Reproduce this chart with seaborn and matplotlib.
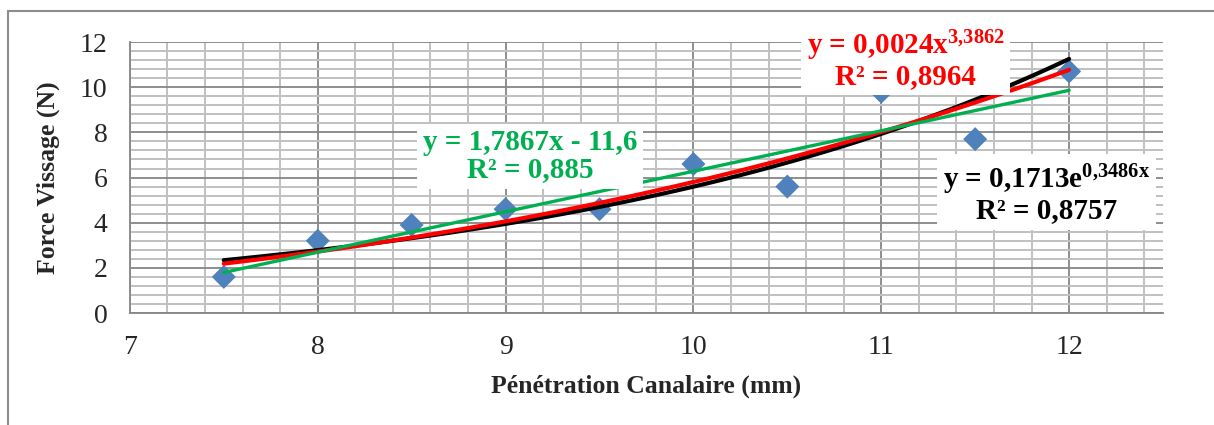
import numpy as np
import pandas as pd
import seaborn as sns
import matplotlib.pyplot as plt
from matplotlib.ticker import MultipleLocator
from matplotlib.lines import Line2D

penetration = [7.5, 8, 8.5, 9, 9.5, 10, 10.5, 11, 11.5, 12]
force = [1.6, 3.2, 3.9, 4.6, 4.6, 6.6, 5.6, 9.8, 7.7, 10.7]
eq_lin = ["y = 1,7867x - 11,6", "R² = 0,885"]
eq_pow = ["y = 0,0024x$^{3{,}3862}$", "R² = 0,8964"]
eq_exp = ["y = 0,1713e$^{0{,}3486x}$", "R² = 0,8757"]

sns.set_style("white")
plt.rcParams['font.family'] = ['Liberation Serif', 'DejaVu Serif']
plt.rcParams['mathtext.fontset'] = 'custom'
plt.rcParams['mathtext.rm'] = 'Liberation Serif:bold'
plt.rcParams['mathtext.it'] = 'Liberation Serif:bold'
plt.rcParams['mathtext.bf'] = 'Liberation Serif:bold'

df = pd.DataFrame({"x": penetration, "y": force})
x = np.array(penetration)
y = np.array(force)
xs = np.linspace(x.min(), x.max(), 100)
a, b = np.polyfit(x, y, 1)
pa, pb = np.polyfit(np.log(x), np.log(y), 1)
ea, eb = np.polyfit(x, np.log(y), 1)
fits = pd.DataFrame({"x": xs,
                     "lin": a * xs + b,
                     "pow": np.exp(pb) * xs ** pa,
                     "exp": np.exp(eb) * np.exp(ea * xs)})

fig = plt.figure(figsize=(12.14, 4.25), dpi=100)
ax = fig.add_axes([0.107, 0.2635, 0.851, 0.6375])

sns.scatterplot(data=df, x="x", y="y", marker="D", s=150, color="#4F81BD",
                edgecolor="none", ax=ax, zorder=3)
sns.lineplot(data=fits, x="x", y="exp", color="black", lw=3, ax=ax, zorder=4)
sns.lineplot(data=fits, x="x", y="pow", color="red", lw=3, ax=ax, zorder=5)
sns.lineplot(data=fits, x="x", y="lin", color="#00B050", lw=2.4, ax=ax, zorder=6)

ax.set_xlim(7, 12.5)
ax.set_ylim(0, 12)
ax.set_xticks(range(7, 13))
ax.set_yticks(range(0, 13, 2))
ax.xaxis.set_minor_locator(MultipleLocator(0.2))
ax.yaxis.set_minor_locator(MultipleLocator(0.4))
ax.grid(which="major", color="#868686", lw=1.3)
ax.grid(which="minor", color="#c0c0c0", lw=1.4)
ax.set_axisbelow(True)
for s in ["top", "right"]:
    ax.spines[s].set_visible(False)
for s in ["left", "bottom"]:
    ax.spines[s].set_color("#868686")
    ax.spines[s].set_linewidth(1.3)
ax.tick_params(which="major", length=8, color="#868686", labelsize=20, pad=8)
ax.tick_params(which="minor", length=0)
ax.set_xlabel("Pénétration Canalaire (mm)", fontsize=18.5, fontweight="bold", labelpad=10)
ax.set_ylabel("Force Vissage (N)", fontsize=18.5, fontweight="bold", labelpad=14)

box = dict(facecolor="white", edgecolor="none", pad=4)
ax.text(9.13, 6.95, "\n".join(eq_lin), color="#00B050", fontsize=21, fontweight="bold",
        ha="center", va="center", bbox=box, zorder=10, linespacing=1.0)
ax.text(11.13, 11.25, "\n".join(eq_pow), color="red", fontsize=21, fontweight="bold",
        ha="center", va="center", bbox=box, zorder=10, linespacing=1.0, clip_on=False)
ax.text(11.88, 5.3, "\n".join(eq_exp), color="black", fontsize=21, fontweight="bold",
        ha="center", va="center", bbox=box, zorder=10, linespacing=1.0)

fig.add_artist(Line2D([8 / 1214, 8 / 1214], [0, 1 - 11 / 425], color="#8c8c8c", lw=1.5))
fig.add_artist(Line2D([8 / 1214, 1], [1 - 11 / 425, 1 - 11 / 425], color="#8c8c8c", lw=1.5))

fig.savefig("out.png", dpi=100)
